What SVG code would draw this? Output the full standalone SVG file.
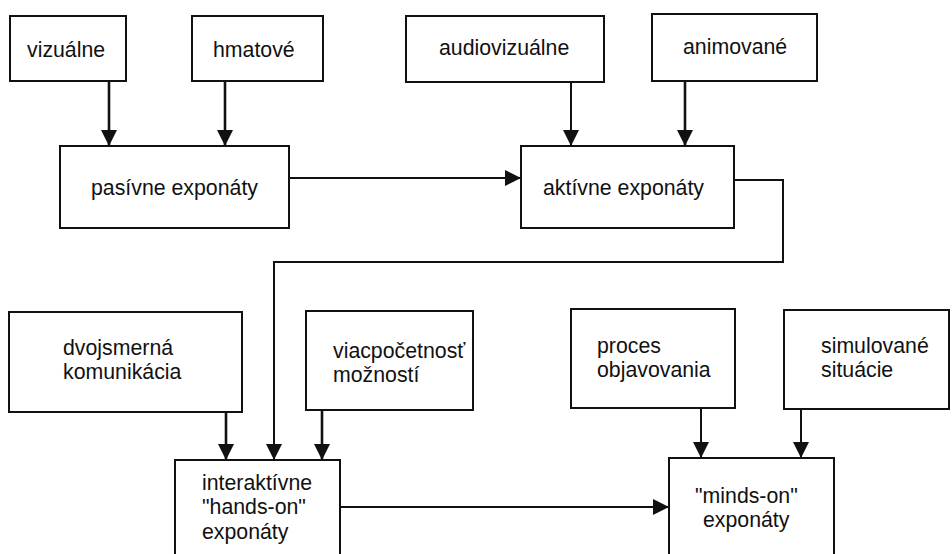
<svg xmlns="http://www.w3.org/2000/svg" width="952" height="554" viewBox="0 0 952 554">
<style>
.box{fill:#fff;stroke:#111;stroke-width:2}
.t{font-family:"Liberation Sans",Arial,sans-serif;font-size:21.3px;fill:#111}
.c{fill:none;stroke:#111;stroke-width:2}
.k{stroke-width:2.6}
</style>
<defs>
<marker id="ah" markerUnits="userSpaceOnUse" markerWidth="16" markerHeight="16" refX="16" refY="8" orient="auto" viewBox="0 0 16 16">
<path d="M0,0 L16,8 L0,16 z" fill="#111"/>
</marker>
</defs>
<rect width="952" height="554" fill="#fff"/>
<g id="connectors">
<path class="c k" d="M109,81 V146" marker-end="url(#ah)"/>
<path class="c k" d="M225,81 V146" marker-end="url(#ah)"/>
<path class="c" d="M571,82 V146" marker-end="url(#ah)"/>
<path class="c k" d="M685,81 V146" marker-end="url(#ah)"/>
<path class="c" d="M289,178 H521" marker-end="url(#ah)"/>
<path class="c" d="M734,180 H783 V262 H274 V460" marker-end="url(#ah)"/>
<path class="c k" d="M226,412 V460" marker-end="url(#ah)"/>
<path class="c k" d="M322,410 V460" marker-end="url(#ah)"/>
<path class="c" d="M340,507 H669" marker-end="url(#ah)"/>
<path class="c" d="M701,408 V458" marker-end="url(#ah)"/>
<path class="c" d="M801,409 V458" marker-end="url(#ah)"/>
</g>
<g id="vizualne"><rect class="box" x="10" y="16" width="116" height="65"/><text class="t" x="27" y="57">vizuálne</text></g>
<g id="hmatove"><rect class="box" x="192" y="16" width="131" height="65"/><text class="t" x="213" y="57">hmatové</text></g>
<g id="audiovizualne"><rect class="box" x="406" y="16" width="198" height="66"/><text class="t" x="439" y="55">audiovizuálne</text></g>
<g id="animovane"><rect class="box" x="652" y="14" width="165" height="67"/><text class="t" x="683" y="54">animované</text></g>
<g id="pasivne"><rect class="box" x="60" y="146" width="229" height="82"/><text class="t" x="91" y="195">pasívne exponáty</text></g>
<g id="aktivne"><rect class="box" x="521" y="146" width="213" height="82"/><text class="t" x="543" y="195">aktívne exponáty</text></g>
<g id="dvojsmerna"><rect class="box" x="9" y="312" width="233" height="100"/><text class="t" x="63" y="355">dvojsmerná</text><text class="t" x="63" y="379">komunikácia</text></g>
<g id="viacpocetnost"><rect class="box" x="306" y="311" width="167" height="99"/><text class="t" x="333" y="358">viacpočetnosť</text><text class="t" x="333" y="382">možností</text></g>
<g id="proces"><rect class="box" x="571" y="309" width="164" height="99"/><text class="t" x="597" y="353">proces</text><text class="t" x="597" y="377">objavovania</text></g>
<g id="simulovane"><rect class="box" x="784" y="310" width="165" height="99"/><text class="t" x="821" y="353">simulované</text><text class="t" x="821" y="377">situácie</text></g>
<g id="interaktivne"><rect class="box" x="175" y="460" width="165" height="110"/><text class="t" x="202" y="490">interaktívne</text><text class="t" x="202" y="514">"hands-on"</text><text class="t" x="202" y="539">exponáty</text></g>
<g id="mindson"><rect class="box" x="669" y="458" width="165" height="112"/><text class="t" x="695" y="503">"minds-on"</text><text class="t" x="703" y="527">exponáty</text></g>
</svg>
